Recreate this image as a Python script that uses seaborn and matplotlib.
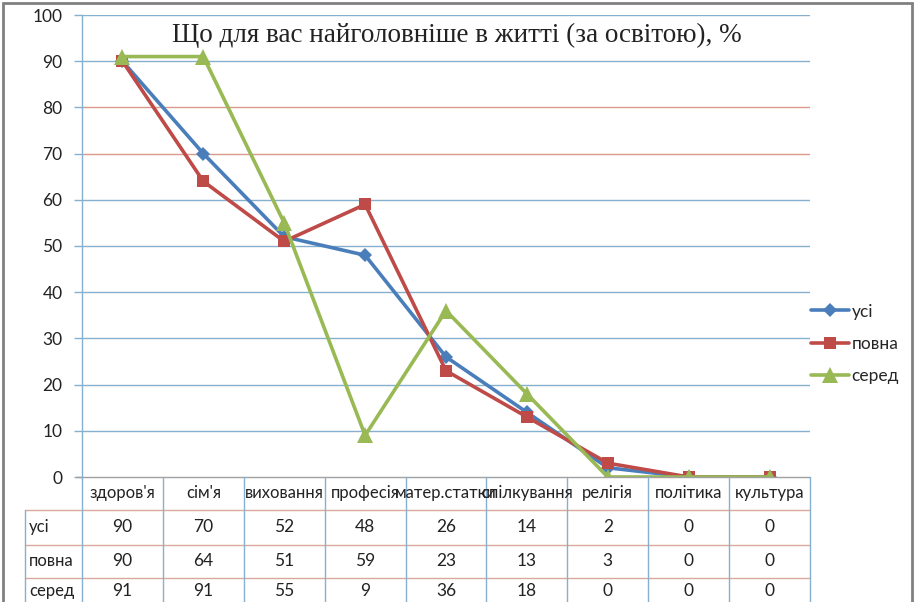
import matplotlib
matplotlib.use("Agg")
import matplotlib.pyplot as plt
import seaborn as sns
import pandas as pd
from matplotlib.patches import Rectangle
from matplotlib.lines import Line2D

categories = ["здоров'я", "сім'я", "виховання", "професія", "матер.статки",
              "спілкування", "релігія", "політика", "культура"]
series_names = ["усі", "повна", "серед"]
usi = [90, 70, 52, 48, 26, 14, 2, 0, 0]
povna = [90, 64, 51, 59, 23, 13, 3, 0, 0]
sered = [91, 91, 55, 9, 36, 18, 0, 0, 0]
yticks = [0, 10, 20, 30, 40, 50, 60, 70, 80, 90, 100]
title = "Що для вас найголовніше в житті (за освітою), %"

colors = {"усі": "#4a7ebb", "повна": "#be4b48", "серед": "#98b954"}
markers = {"усі": "D", "повна": "s", "серед": "^"}
msizes = {"усі": 7, "повна": 9, "серед": 11}

rows = []
for name, vals in zip(series_names, [usi, povna, sered]):
    for i, (c, v) in enumerate(zip(categories, vals)):
        rows.append({"pos": i, "cat": c, "series": name, "value": v})
df = pd.DataFrame(rows)

sns.set_theme(style="white")
plt.rcParams['font.family'] = ['Lato', 'DejaVu Sans']

W, H = 915, 602
fig = plt.figure(figsize=(W / 100, H / 100), dpi=100)

def fx(x):
    return x / W

def fy(y):
    return 1 - y / H

ax_l, ax_r, ax_t, ax_b = 82, 810, 15, 477
ax = fig.add_axes([fx(ax_l), fy(ax_b), (ax_r - ax_l) / W, (ax_b - ax_t) / H])

# grid lines
grid_col = {70: "#d99a8c", 80: "#d99a8c"}
for t in yticks:
    if t == 0:
        continue
    ax.axhline(t, color=grid_col.get(t, "#86b0cf"), lw=1.0, zorder=0)

sns.lineplot(data=df, x="pos", y="value", hue="series", style="series",
             palette=colors, markers=markers, dashes=False, ax=ax,
             linewidth=2.6, markersize=9, markeredgewidth=0, legend=False,
             zorder=3)
for line in ax.get_lines():
    c = matplotlib.colors.to_hex(line.get_color())
    for n in series_names:
        if c == colors[n]:
            line.set_markersize(msizes[n])

ax.set_xlim(-0.5, len(categories) - 0.5)
ax.set_ylim(0, 100)
ax.set_yticks(yticks)
ax.set_yticklabels([str(t) for t in yticks], fontsize=12.5, color="#222222")
ax.set_xticks([])
ax.set_xlabel("")
ax.set_ylabel("")
for s in ["top", "right", "bottom"]:
    ax.spines[s].set_visible(False)
ax.spines["left"].set_color("#86b0cf")
ax.spines["left"].set_linewidth(1.0)
ax.tick_params(axis="y", length=6, color="#86b0cf", width=1.0, pad=8, left=True)
ax.patch.set_alpha(0)

fig.text(fx(457), fy(35), title, ha="center", va="center",
         fontsize=19.5, family=["Liberation Serif", "DejaVu Serif"], color="#222222")

# legend
handles = [Line2D([0], [0], color=colors[n], marker=markers[n], lw=2.6,
                  markersize=msizes[n], markeredgewidth=0)
           for n in series_names]
fig.legend(handles, series_names, loc="center left",
           bbox_to_anchor=(fx(795), fy(344)), frameon=False, fontsize=12.5,
           handlelength=2.2, handletextpad=0.15, labelspacing=0.95)

# data table
col_w = (ax_r - ax_l) / len(categories)
tl = dict(transform=fig.transFigure, lw=1.0)
hcol = "#86b0cf"
rcol = "#d9a99c"
y_axis0 = ax_b
y_hdr = 510
y_r1 = 545
y_r2 = 578
y_end = 602
fig.add_artist(Line2D([fx(76), fx(ax_r)], [fy(y_axis0), fy(y_axis0)], color="#a0a0a0", **tl))
for yl in [y_hdr, y_r1, y_r2]:
    fig.add_artist(Line2D([fx(25), fx(ax_r)], [fy(yl), fy(yl)], color=rcol, **tl))
for k in range(len(categories) + 1):
    xk = ax_l + k * col_w
    fig.add_artist(Line2D([fx(xk), fx(xk)], [fy(y_axis0), fy(y_end)], color=hcol, **tl))
fig.add_artist(Line2D([fx(25), fx(25)], [fy(y_hdr), fy(y_end)], color=hcol, **tl))

for k, c in enumerate(categories):
    xc = ax_l + (k + 0.5) * col_w
    fig.text(fx(xc), fy(493), c, ha="center", va="center", fontsize=12, color="#222222")
row_y = [527, 561, 591]
for name, vals, yr in zip(series_names, [usi, povna, sered], row_y):
    fig.text(fx(29), fy(yr), name, ha="left", va="center", fontsize=12, color="#222222")
    for k, v in enumerate(vals):
        xc = ax_l + (k + 0.5) * col_w
        fig.text(fx(xc), fy(yr), str(v), ha="center", va="center", fontsize=12.5, color="#222222")

# outer frame
fig.add_artist(Rectangle((fx(3), fy(620)), fx(909), (620 - 3) / H, transform=fig.transFigure,
                         fill=False, edgecolor="#808080", lw=2))

fig.savefig("out.png", dpi=100)
